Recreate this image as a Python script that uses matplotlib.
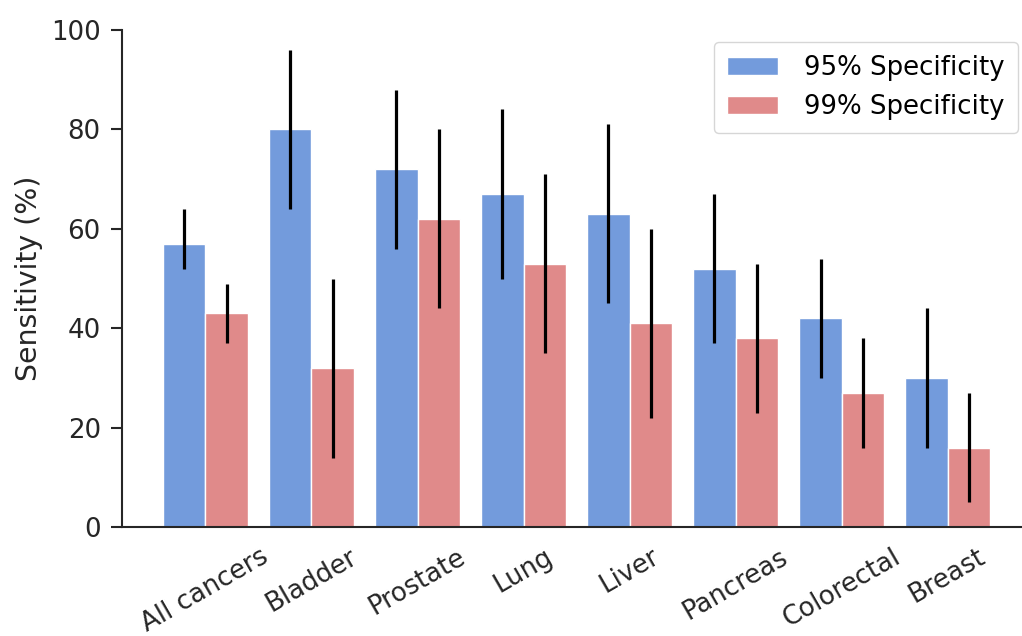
import matplotlib
matplotlib.use("Agg")
import matplotlib.pyplot as plt
import numpy as np

categories = ["All cancers", "Bladder", "Prostate", "Lung", "Liver", "Pancreas", "Colorectal", "Breast"]
sens95 = [57, 80, 72, 67, 63, 52, 42, 30]
low95 = [52, 64, 56, 50, 45, 37, 30, 16]
high95 = [64, 96, 88, 84, 81, 67, 54, 44]
sens99 = [43, 32, 62, 53, 41, 38, 27, 16]
low99 = [37, 14, 44, 35, 22, 23, 16, 5]
high99 = [49, 50, 80, 71, 60, 53, 38, 27]
series_labels = ["95% Specificity", "99% Specificity"]

plt.rcParams['font.family'] = ['DejaVu Sans']
fig = plt.figure(figsize=(10.22, 6.36), dpi=100)
ax = fig.add_axes([0.119, 0.171, 0.881, 0.782])

x = np.arange(len(categories))
w = 0.4
c_blue = "#739bdc"
c_red = "#e08a8a"
for vals, lo, hi, off, col, lab in [(sens95, low95, high95, -w/2, c_blue, series_labels[0]),
                                    (sens99, low99, high99, w/2, c_red, series_labels[1])]:
    ax.bar(x + off, vals, width=w, color=col, edgecolor="white", linewidth=1, label=lab)
    ax.vlines(x + off, lo, hi, color="black", linewidth=2.3)

ax.set_xlim(-0.79, 7.7)
ax.set_ylim(0, 100)
ax.set_yticks([0, 20, 40, 60, 80, 100])
ax.set_xticks(x)
ax.set_xticklabels(categories, rotation=30, ha="center", fontsize=18.7, color="#262626")
ax.tick_params(axis="x", length=0, pad=12)
ax.tick_params(axis="y", labelsize=18.7, labelcolor="#262626", length=8, width=1.5,
               color="#262626", pad=7)
ax.set_ylabel("Sensitivity (%)", fontsize=20.4, color="#262626", labelpad=6)
for s in ["top", "right"]:
    ax.spines[s].set_visible(False)
for s in ["left", "bottom"]:
    ax.spines[s].set_linewidth(1.5)
    ax.spines[s].set_color("#262626")

leg = ax.legend(loc="upper right", fontsize=18.7, frameon=True, borderpad=0.5,
                handlelength=2.0, handletextpad=1.0, borderaxespad=0,
                bbox_to_anchor=(0.9956, 0.976))
leg.get_frame().set_edgecolor("#cccccc")

fig.savefig("out.png", dpi=100)
